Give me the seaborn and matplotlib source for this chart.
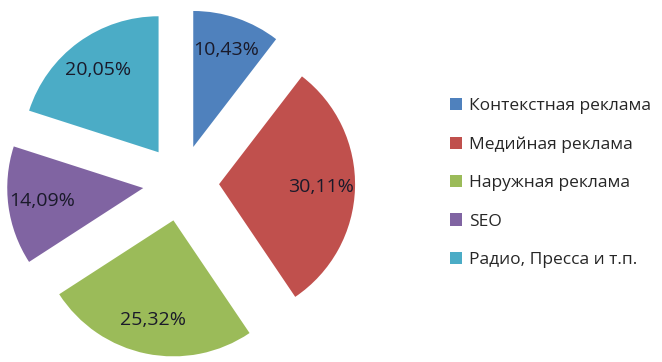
import matplotlib
matplotlib.use('Agg')
import matplotlib.pyplot as plt
import seaborn as sns

# setting a style to use
sns.set_style('white')
plt.rcParams['font.family'] = ['Open Sans', 'DejaVu Sans']

# data
categories = ['Контекстная реклама', 'Медийная реклама', 'Наружная реклама', 'SEO', 'Радио, Пресса и т.п.']
shares = [10.43, 30.11, 25.32, 14.09, 20.05]
colors = sns.color_palette(['#4F81BD', '#C0504D', '#9BBB59', '#8064A2', '#4BACC6'])

W, H = 662, 362
fig = plt.figure(figsize=(W / 100, H / 100), dpi=100)

# pie axes: square, on the left
ax = fig.add_axes([0, 0, H / W, 1])

wedges, texts, autotexts = ax.pie(
    shares, colors=colors, startangle=90, counterclock=False,
    explode=[0.28] * len(shares), radius=1,
    autopct=lambda p: f'{p:.2f}%'.replace('.', ','), pctdistance=0.75,
    wedgeprops=dict(linewidth=0), frame=False,
    textprops=dict(fontsize=14, color='#1a1a2a'),
)

# pie() resets the limits, so set them afterwards
half = 181 / 136
ax.set_xlim(-half, half)
ax.set_ylim(-half + 0.015, half + 0.015)
ax.set_aspect('equal')
ax.axis('off')

# legend on the right
fig.legend(wedges, categories, loc='center left',
           bbox_to_anchor=(441 / W, 1 - 183 / H), frameon=False,
           fontsize=12.5, handlelength=0.7, handleheight=0.7,
           handletextpad=0.4, labelspacing=1.28, borderpad=0)

fig.savefig('out.png', dpi=100)
